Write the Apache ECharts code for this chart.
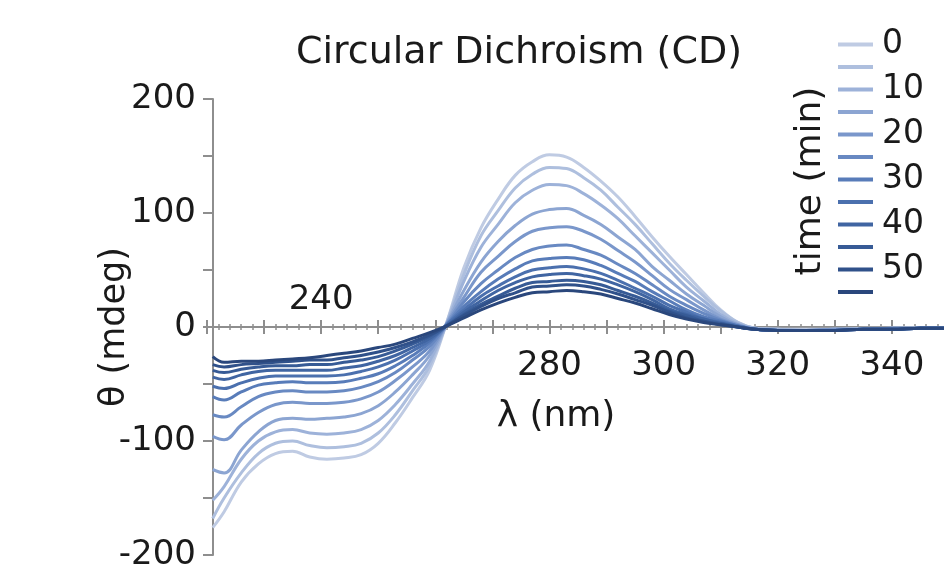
<!DOCTYPE html>
<html>
<head>
<meta charset="utf-8">
<script src="https://cdn.jsdelivr.net/npm/echarts@6/dist/echarts.min.js"></script>
<style>
  html, body { margin: 0; padding: 0; background: #fff; }
  #cdChart { width: 944px; height: 577px; }
</style>
</head>
<body>
<div id="cdChart"></div>
<script>
// longueurs d'onde (nm)
const wavelengths = [221, 223, 226, 229, 232, 235, 238, 241, 244, 247, 250, 253, 256, 259, 262, 265, 268, 271, 274, 277, 280, 283, 286, 289, 292, 295, 298, 301, 304, 307, 310, 313, 316, 320, 325, 330, 335, 340, 345, 350];
// temps (min)
const times = [0, 5, 10, 15, 20, 25, 30, 35, 40, 45, 50, 55];
// ellipticité (mdeg) pour chaque temps
const cd0 = [-176, -162, -136, -120, -111, -109, -114, -116, -115, -112, -102, -84, -62, -38, 4, 52, 87, 112, 133, 145, 151, 149, 140, 128, 114, 97, 79, 62, 46, 30, 15, 4, -1, -2, -2, -2, -1, -1, -1, -1];
const cd5 = [-168, -150, -128, -111, -102, -100, -104, -106, -105, -102, -93, -77, -56, -34, 4, 46, 80, 102, 122, 134, 140, 139, 131, 120, 105, 90, 73, 56, 41, 27, 14, 4, -1, -2, -3, -2, -2, -1, -1, -1];
const cd10 = [-152, -140, -116, -100, -92, -90, -93, -94, -93, -90, -82, -68, -50, -30, 3, 40, 70, 90, 109, 120, 125, 124, 117, 107, 95, 80, 65, 50, 35, 23, 11, 3, -1, -2, -3, -2, -2, -1, -1, -1];
const cd15 = [-125, -128, -108, -92, -82, -80, -81, -80, -79, -76, -69, -57, -42, -25, 3, 32, 57, 75, 89, 99, 103, 104, 98, 90, 79, 68, 53, 41, 29, 19, 9, 2, -2, -3, -3, -2, -2, -1, -1, -1];
const cd20 = [-96, -99, -86, -75, -68, -66, -67, -67, -66, -63, -57, -47, -35, -21, 3, 26, 48, 62, 75, 84, 87, 88, 84, 77, 67, 57, 45, 33, 24, 15, 7, 2, -2, -3, -3, -2, -2, -1, -1, -1];
const cd25 = [-77, -79, -70, -61, -57, -56, -57, -57, -56, -53, -48, -40, -29, -17, 2, 22, 38, 50, 61, 68, 71, 72, 68, 63, 55, 47, 37, 27, 19, 12, 6, 1, -2, -3, -3, -3, -2, -2, -1, -1];
const cd30 = [-61, -64, -57, -51, -49, -48, -49, -49, -48, -45, -41, -34, -25, -14, 2, 18, 31, 42, 51, 58, 60, 61, 59, 54, 47, 40, 31, 23, 15, 9, 5, 1, -2, -3, -3, -3, -2, -2, -1, -1];
const cd35 = [-52, -54, -49, -45, -43, -43, -43, -43, -42, -39, -35, -29, -21, -12, 2, 15, 27, 36, 44, 50, 52, 53, 51, 47, 41, 34, 27, 19, 13, 7, 4, 1, -2, -3, -3, -3, -2, -2, -1, -1];
const cd40 = [-44, -46, -42, -39, -38, -38, -38, -38, -36, -34, -30, -25, -18, -10, 1, 13, 23, 32, 39, 44, 46, 47, 45, 42, 37, 31, 24, 16, 11, 7, 3, 0, -2, -3, -3, -3, -2, -2, -1, -1];
const cd45 = [-38, -40, -37, -35, -34, -34, -33, -33, -31, -29, -26, -21, -15, -8, 1, 11, 20, 27, 34, 39, 40, 41, 40, 37, 32, 27, 21, 14, 10, 5, 3, 0, -2, -3, -3, -3, -2, -2, -1, -1];
const cd50 = [-33, -35, -33, -32, -31, -30, -29, -29, -27, -25, -22, -18, -13, -7, 1, 10, 18, 25, 30, 35, 36, 37, 36, 33, 29, 24, 19, 13, 8, 5, 2, 0, -2, -3, -3, -3, -2, -2, -1, -1];
const cd55 = [-26, -31, -30, -30, -29, -28, -27, -25, -23, -21, -18, -15, -10, -5, 1, 8, 15, 21, 26, 30, 31, 32, 31, 29, 25, 21, 16, 11, 7, 4, 2, 0, -2, -3, -3, -3, -2, -2, -1, -1];
const cdAll = [cd0, cd5, cd10, cd15, cd20, cd25, cd30, cd35, cd40, cd45, cd50, cd55];

// du plus clair (0 min) au plus foncé (55 min)
const colors = ['#bfcbe3', '#aebfde', '#9db2d9', '#8ca5d2', '#7a97cb', '#6889c2', '#587cb9', '#4b70ae', '#4065a2', '#375b96', '#30518a', '#2a477c'];

const font = "'DejaVu Sans', sans-serif";
const axisGray = '#8e8e8e';

let cdChart = null;
document.addEventListener("DOMContentLoaded", () => {
	const series = times.map((t, i) => ({
		name: String(t),
		type: "line",
		xAxisIndex: 0,
		symbol: "none",
		smooth: 0.4,
		color: colors[i],
		lineStyle: { width: 3, color: colors[i] },
		data: wavelengths.map((w, j) => [w, cdAll[i][j]]),
	}));

	cdChart = echarts.init(document.querySelector("#cdChart"));
	cdChart.setOption({
		animation: false,
		backgroundColor: "#fff",
		title: [
			{
				text: "Circular Dichroism (CD)",
				left: 514,
				textAlign: "center",
				top: 29,
				textStyle: { fontFamily: font, fontSize: 38, lineHeight: 38, fontWeight: "normal", color: "#1a1a1a" },
			},
			{
				text: "λ (nm)",
				left: 551,
				textAlign: "center",
				top: 394,
				textStyle: { fontFamily: font, fontSize: 36, lineHeight: 36, fontWeight: "normal", color: "#1a1a1a" },
			},
		],
		legend: {
			orient: "vertical",
			left: 838,
			top: 28,
			padding: 0,
			icon: "rect",
			itemWidth: 35,
			itemHeight: 4,
			itemGap: 4,
			data: times.map(String),
			formatter: (name) => (Number(name) % 10 === 0 ? name : ""),
			textStyle: { fontFamily: font, fontSize: 33, lineHeight: 20, color: "#1a1a1a", padding: [0, 0, 0, 4] },
		},
		graphic: [
			{
				type: "text",
				x: 811,
				y: 181,
				rotation: Math.PI / 2,
				style: {
					text: "time (min)",
					font: "36px 'DejaVu Sans'",
					fill: "#1a1a1a",
					align: "center",
					verticalAlign: "middle",
					textAlign: "center",
					textVerticalAlign: "middle",
				},
			},
		],
		grid: { left: 207, top: 99, width: 742, height: 456, outerBoundsMode: "none", containLabel: false },
		xAxis: [
			{
				type: "value",
				position: "bottom",
				offset: -228,
				min: 220,
				max: 350,
				interval: 10,
				axisLine: { onZero: false, lineStyle: { color: axisGray, width: 2 } },
				axisTick: { length: 7, lineStyle: { color: axisGray, width: 2 } },
				minorTick: { show: true, splitNumber: 5, length: 3, lineStyle: { color: axisGray, width: 1.5 } },
				splitLine: { show: false },
				axisLabel: {
					margin: 22,
					fontFamily: font,
					fontSize: 34,
					lineHeight: 34,
					color: "#1a1a1a",
					formatter: (v) => ([280, 300, 320, 340].includes(v) ? String(v) : ""),
				},
			},
			{
				type: "value",
				position: "top",
				offset: -228,
				min: 220,
				max: 350,
				interval: 10,
				axisLine: { onZero: false, lineStyle: { color: axisGray, width: 2 } },
				axisTick: { length: 7, lineStyle: { color: axisGray, width: 2 } },
				minorTick: { show: true, splitNumber: 5, length: 3, lineStyle: { color: axisGray, width: 1.5 } },
				splitLine: { show: false },
				axisLabel: {
					margin: 10,
					fontFamily: font,
					fontSize: 34,
					lineHeight: 34,
					color: "#1a1a1a",
					formatter: (v) => (v === 240 ? "240" : ""),
				},
			},
		],
		yAxis: {
			type: "value",
			min: -200,
			max: 200,
			interval: 50,
			offset: -6,
			name: "θ (mdeg)",
			nameLocation: "middle",
			nameGap: 81,
			nameMoveOverlap: false,
			nameTextStyle: { fontFamily: font, fontSize: 35, color: "#1a1a1a" },
			axisLine: { show: true, onZero: false, lineStyle: { color: axisGray, width: 2 } },
			axisTick: { show: true, length: 10, lineStyle: { color: axisGray, width: 2 } },
			splitLine: { show: false },
			axisLabel: {
				margin: 17,
				fontFamily: font,
				fontSize: 34,
				color: "#1a1a1a",
				formatter: (v) => (v % 100 === 0 ? String(v) : ""),
			},
		},
		series: series,
	});
});
</script>
</body>
</html>
